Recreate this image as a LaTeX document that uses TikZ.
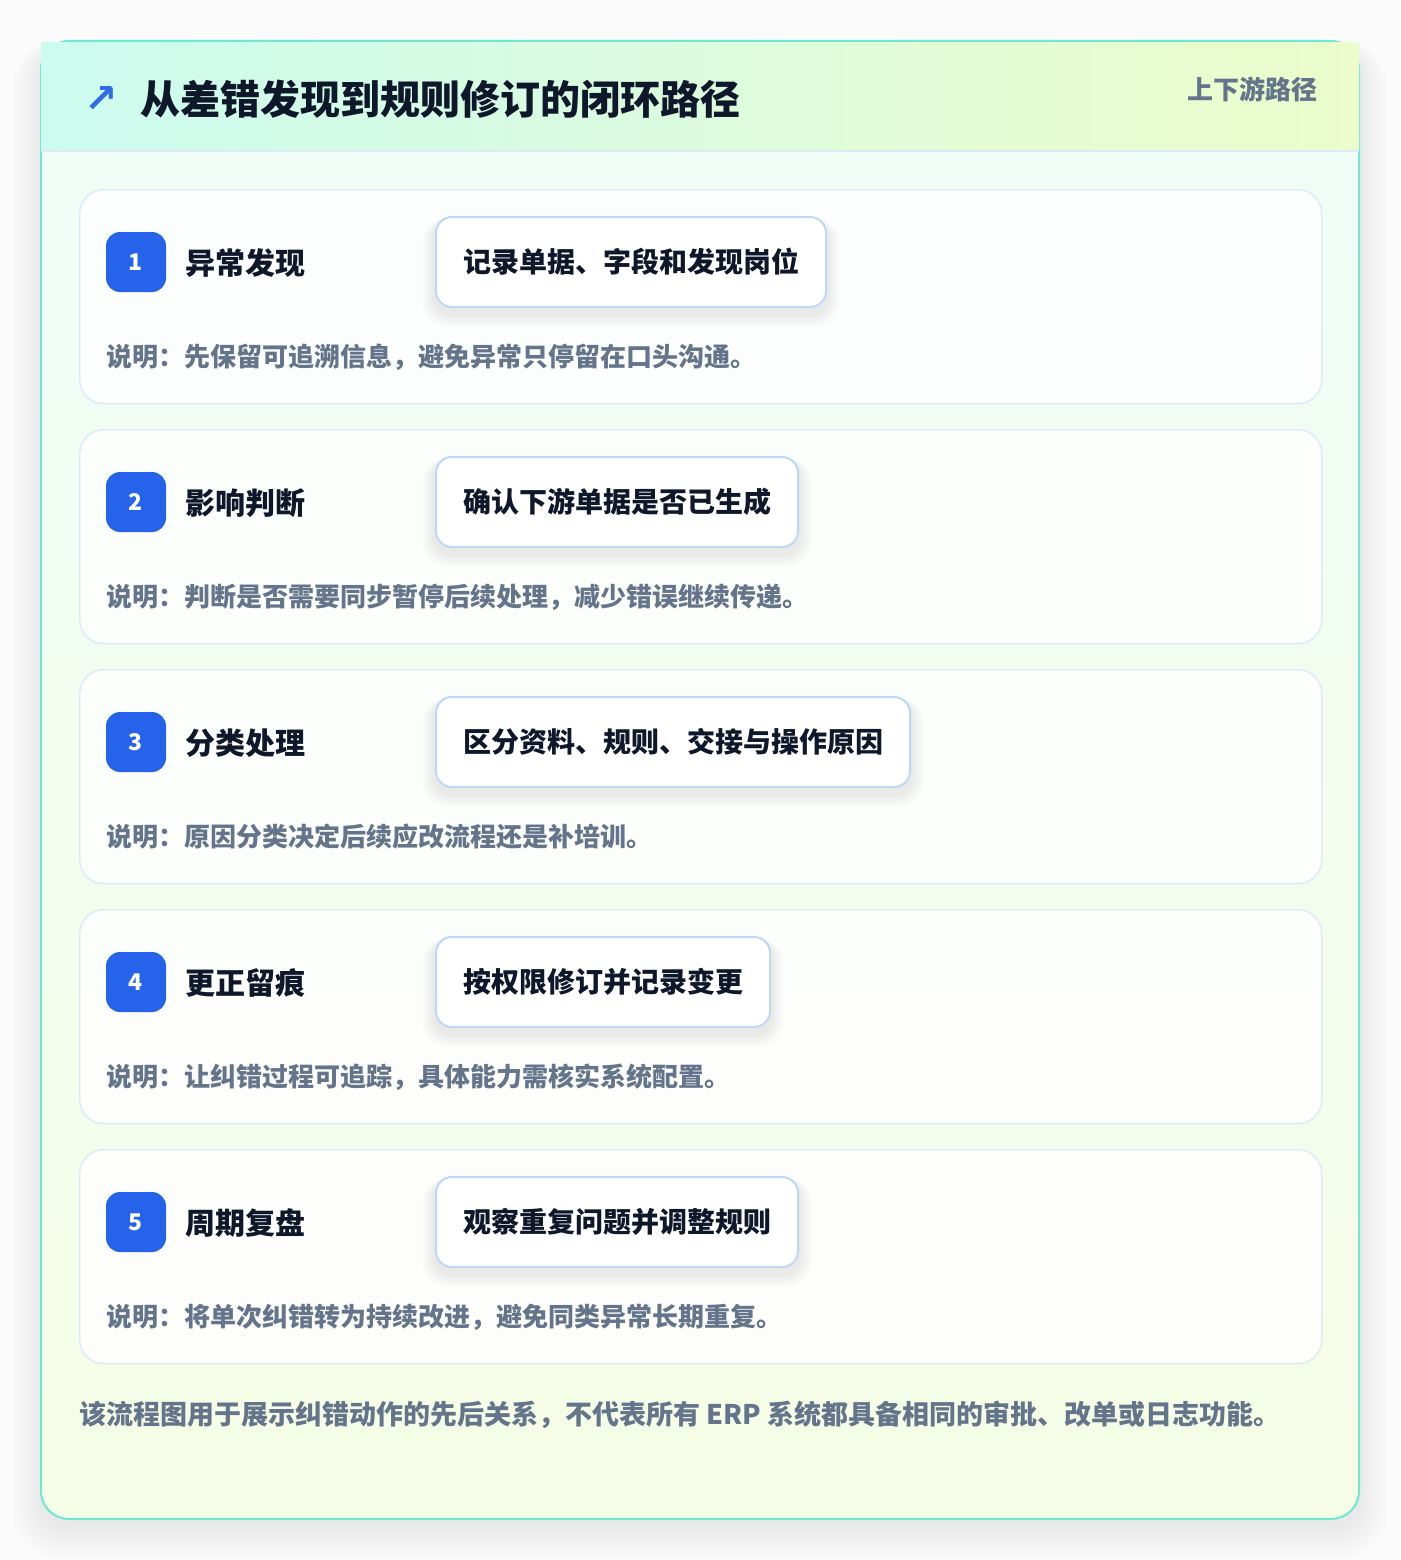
\documentclass[tikz,border=0pt]{standalone}
\usepackage{fontspec}
\setmainfont{Noto Sans CJK SC}
\newfontfamily\symfont{DejaVu Sans}
\definecolor{pagebg}{HTML}{FBFBFB}
\definecolor{tealb}{HTML}{6EE7D3}
\definecolor{hdrL}{HTML}{CCFBEF}
\definecolor{hdrR}{HTML}{ECFCCB}
\definecolor{bodyT}{HTML}{EFFDF8}
\definecolor{bodyB}{HTML}{F6FDE6}
\definecolor{hline}{HTML}{DCE9F7}
\definecolor{cardb}{HTML}{DDE9F8}
\definecolor{boxb}{HTML}{BFD8F6}
\definecolor{badgec}{HTML}{2563EB}
\definecolor{ink}{HTML}{0F172A}
\definecolor{muted}{HTML}{64748B}
\definecolor{arrowc}{HTML}{2F6BE8}
\tikzset{
  stepcard/.style={draw=cardb, line width=1.4pt, fill=white, fill opacity=0.82, rounded corners=24pt, minimum width=1242pt, minimum height=214pt, anchor=north west, inner sep=0pt},
  badge/.style={fill=badgec, rounded corners=14pt, minimum width=60pt, minimum height=60pt, inner sep=0pt, text=white, font=\fontsize{23pt}{23pt}\selectfont\bfseries},
  stepname/.style={anchor=west, inner sep=0pt, text=ink, font=\fontsize{30pt}{30pt}\selectfont\bfseries},
  actbox/.style={draw=boxb, line width=2pt, fill=white, rounded corners=16pt, anchor=west, inner xsep=27pt, inner ysep=0pt, minimum height=90pt, text=ink, font=\fontsize{28pt}{28pt}\selectfont\bfseries},
  desc/.style={anchor=west, inner sep=0pt, text=muted, font=\fontsize{26pt}{26pt}\selectfont\bfseries},
}
\pgfdeclarelayer{bg}
\pgfdeclarelayer{cards}
\pgfdeclarelayer{shad}
\pgfsetlayers{bg,cards,shad,main}
\begin{document}
\begin{tikzpicture}[x=1pt,y=-1pt]
\useasboundingbox (0,0) rectangle (1400,1560);
\begin{pgfonlayer}{bg}
\fill[pagebg] (0,0) rectangle (1400,1560);
% outer card shadow
\foreach \k in {1,...,18} {
  \fill[black, opacity=0.0045, rounded corners={28pt+\k pt}] (41-\k*1.6, 41-\k*0.5+8) rectangle (1359+\k*1.6, 1519+\k*1.8+8);
}
% outer card
\shade[top color=bodyT, bottom color=bodyB, rounded corners=28pt] (41,41) rectangle (1359,1519);
\draw[tealb, line width=2pt, rounded corners=28pt] (41,41) rectangle (1359,1519);
% header band
\shade[left color=hdrL, right color=hdrR] (41,42.2) rectangle (1359,151);
\draw[hline, line width=1.5pt] (41,151) -- (1359,151);
\end{pgfonlayer}

\node[anchor=west, inner sep=0pt, text=arrowc, font=\symfont\fontsize{40pt}{40pt}\selectfont\bfseries] (arrow) at (84,100) {↗};
\node[anchor=west, inner sep=0pt, text=ink, font=\fontsize{40pt}{40pt}\selectfont\bfseries] (title) at (140,99) {从差错发现到规则修订的闭环路径};
\node[anchor=east, inner sep=0pt, text=muted, font=\fontsize{26pt}{26pt}\selectfont\bfseries] (tag) at (1318,89) {上下游路径};

\foreach \i/\nm/\bx/\ds in {
  1/{异常发现}/{记录单据、字段和发现岗位}/{说明：先保留可追溯信息，避免异常只停留在口头沟通。},
  2/{影响判断}/{确认下游单据是否已生成}/{说明：判断是否需要同步暂停后续处理，减少错误继续传递。},
  3/{分类处理}/{区分资料、规则、交接与操作原因}/{说明：原因分类决定后续应改流程还是补培训。},
  4/{更正留痕}/{按权限修订并记录变更}/{说明：让纠错过程可追踪，具体能力需核实系统配置。},
  5/{周期复盘}/{观察重复问题并调整规则}/{说明：将单次纠错转为持续改进，避免同类异常长期重复。}} {
  \pgfmathsetmacro\ty{189+(\i-1)*240}
  \begin{pgfonlayer}{cards}
    \node[stepcard] (card\i) at (79,\ty) {};
  \end{pgfonlayer}
  \node[badge] (badge\i) at (136,\ty+73) {\i};
  \node[stepname] (name\i) at (185,\ty+74) {\nm};
  \node[actbox] (act\i) at (435,\ty+73) {\bx};
  \node[desc] (desc\i) at (106,\ty+168) {\ds};
  \begin{pgfonlayer}{shad}
    \foreach \k in {1,...,10} {
      \fill[black!70!blue, opacity=0.006, rounded corners={16pt+\k pt}] ([shift={(-\k*1.3,4-\k*0.2)}]act\i.north west) rectangle ([shift={(\k*1.3,6+\k*1.3)}]act\i.south east);
    }
  \end{pgfonlayer}
}

\node[anchor=west, inner sep=0pt, text=muted, font=\fontsize{27pt}{27pt}\selectfont\bfseries] (foot) at (79,1415) {该流程图用于展示纠错动作的先后关系，不代表所有 ERP 系统都具备相同的审批、改单或日志功能。};
\end{tikzpicture}
\end{document}
